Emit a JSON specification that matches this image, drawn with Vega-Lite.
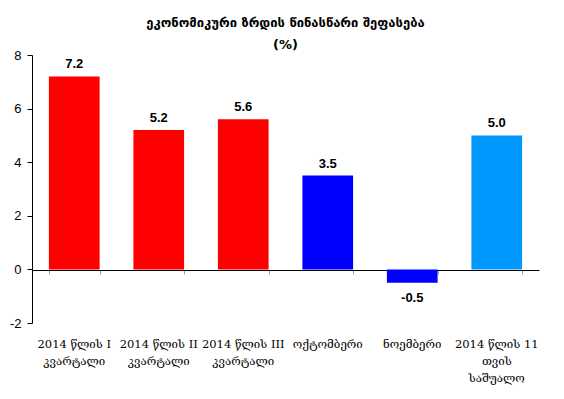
{
  "$schema": "https://vega.github.io/schema/vega-lite/v6.json",
  "autosize": "none",
  "width": 507,
  "height": 268,
  "padding": {"left": 32, "top": 55, "right": 25, "bottom": 76},
  "background": "white",
  "config": {
    "view": {"stroke": null},
    "locale": {"number": {"decimal": ".", "thousands": ",", "grouping": [3], "currency": ["$", ""], "minus": "-"}}
  },
  "title": {
    "text": ["ეკონომიკური ზრდის წინასწარი შეფასება", "(%)"],
    "font": "DejaVu Sans",
    "fontSize": 13,
    "fontWeight": "bold",
    "lineHeight": 22,
    "color": "black",
    "anchor": "middle",
    "offset": -3
  },
  "data": {
    "values": [
      {"label": "2014 წლის I|კვარტალი", "value": 7.2, "color": "#ff0000"},
      {"label": "2014 წლის II|კვარტალი", "value": 5.2, "color": "#ff0000"},
      {"label": "2014 წლის III|კვარტალი", "value": 5.6, "color": "#ff0000"},
      {"label": "ოქტომბერი", "value": 3.5, "color": "#0000ff"},
      {"label": "ნოემბერი", "value": -0.5, "color": "#0000ff"},
      {"label": "2014 წლის 11|თვის|საშუალო", "value": 5.0, "color": "#0099ff"}
    ]
  },
  "encoding": {
    "x": {"field": "label", "type": "nominal", "sort": null,
      "scale": {"paddingInner": 0.4, "paddingOuter": 0.2}}
  },
  "layer": [
    {
      "mark": {"type": "bar"},
      "encoding": {
        "x": {"field": "label", "type": "nominal", "sort": null,
          "axis": {"orient": "bottom", "offset": -53, "title": null, "labels": false,
            "domain": true, "domainColor": "black", "ticks": true, "tickColor": "#999", "tickBand": "extent", "tickSize": 4}},
        "y": {"field": "value", "type": "quantitative",
          "scale": {"domain": [-2, 8], "nice": false},
          "axis": {"title": null, "values": [-2, 0, 2, 4, 6, 8], "grid": false,
            "domainColor": "black", "tickColor": "black", "tickSize": 5,
            "labelFont": "Liberation Sans", "labelFontSize": 13, "labelColor": "black", "labelPadding": 6}},
        "color": {"field": "color", "type": "nominal", "scale": null}
      }
    },
    {
      "transform": [{"filter": "datum.value >= 0"}],
      "mark": {"type": "text", "font": "Liberation Sans", "fontSize": 13, "fontWeight": "bold", "color": "black", "baseline": "bottom", "dy": -5},
      "encoding": {
        "x": {"field": "label", "type": "nominal", "sort": null,
          "axis": {"orient": "bottom", "title": null, "domain": false, "ticks": false,
            "labelAngle": 0, "labelPadding": 15, "labelFont": "DejaVu Serif", "labelFontSize": 11.5,
            "labelColor": "black", "labelLineHeight": 17, "labelLimit": 0,
            "labelExpr": "split(datum.value, '|')"}},
        "y": {"field": "value", "type": "quantitative"},
        "text": {"field": "value", "type": "quantitative", "format": ".1f"}
      }
    },
    {
      "transform": [{"filter": "datum.value < 0"}],
      "mark": {"type": "text", "font": "Liberation Sans", "fontSize": 13, "fontWeight": "bold", "color": "black", "baseline": "top", "dy": 9},
      "encoding": {
        "x": {"field": "label", "type": "nominal", "sort": null, "axis": null},
        "y": {"field": "value", "type": "quantitative"},
        "text": {"field": "value", "type": "quantitative", "format": ".1f"}
      }
    }
  ],
  "resolve": {"axis": {"x": "independent"}}
}
